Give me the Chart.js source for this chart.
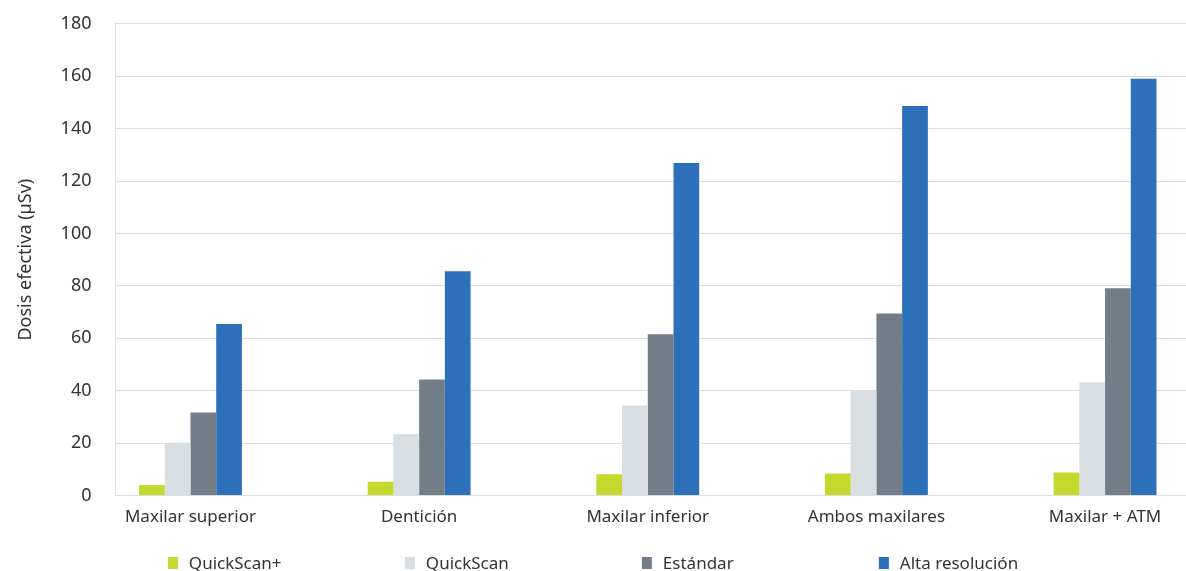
<!DOCTYPE html>
<html>
<head>
<meta charset="utf-8">
<script src="https://cdn.jsdelivr.net/npm/chart.js@4"></script>
<style>
  html, body { margin: 0; padding: 0; background: #fff; overflow: hidden; }
  #wrap { width: 1186px; height: 582px; margin-top: -11px; }
</style>
</head>
<body>
<div id="wrap"><canvas id="myChart"></canvas></div>
<script>
const categories = ['Maxilar superior', 'Dentición', 'Maxilar inferior', 'Ambos maxilares', 'Maxilar + ATM'];
const seriesNames = ['QuickScan+', 'QuickScan', 'Estándar', 'Alta resolución'];
const quickScanPlus = [4, 5.3, 8.1, 8.4, 8.8];
const quickScan = [20.2, 23.4, 34.4, 40.1, 43.2];
const estandar = [31.7, 44.3, 61.6, 69.5, 79.1];
const altaResolucion = [65.5, 85.6, 126.9, 148.6, 159];
const yTicks = [0, 20, 40, 60, 80, 100, 120, 140, 160, 180];
const colors = ['#c5d82e', '#d9dee2', '#737d88', '#2b70b8'];

const allSeries = [quickScanPlus, quickScan, estandar, altaResolucion];

const data = {
    datasets: allSeries.map((vals, s) => ({
        label: seriesNames[s],
        data: vals.map((v, i) => ({ x: i, y: v })),
        backgroundColor: colors[s],
        borderWidth: 0,
        categoryPercentage: 0.45,
        barPercentage: 1
    }))
};

// legend spread out wide at the bottom, like the original
const wideLegend = {
    id: 'wideLegend',
    afterDraw(chart) {
        const ctx = chart.ctx;
        const slot = 237;
        const items = chart.data.datasets;
        ctx.save();
        ctx.font = '17px "Noto Sans"';
        const lastW = 21 + ctx.measureText(items[items.length - 1].label).width;
        const total = slot * (items.length - 1) + lastW;
        let x = chart.width / 2 - total / 2;
        const y = chart.height - 8;
        items.forEach(ds => {
            ctx.fillStyle = ds.backgroundColor;
            ctx.fillRect(x, y - 6, 10, 12);
            ctx.fillStyle = '#333';
            ctx.textBaseline = 'middle';
            ctx.fillText(ds.label, x + 21, y + 1);
            x += slot;
        });
        ctx.restore();
    }
};

const config = {
    type: 'bar',
    data: data,
    plugins: [wideLegend],
    options: {
        responsive: true,
        maintainAspectRatio: false,
        animation: false,
        layout: { padding: { top: 2, right: 0, left: 15, bottom: 41 } },
        plugins: {
            tooltip: { enabled: false },
            legend: { display: false }
        },
        scales: {
            x: {
                type: 'linear',
                offset: false,
                min: -0.328,
                max: 4.354,
                afterBuildTicks: s => { s.ticks = categories.map((c, i) => ({ value: i })); },
                ticks: {
                    autoSkip: false,
                    maxRotation: 0,
                    color: '#333',
                    padding: 3,
                    font: { family: 'Noto Sans', size: 17 },
                    callback: v => categories[v]
                },
                grid: { display: false },
                border: { color: '#dcdfe2' }
            },
            y: {
                min: 0,
                max: 180,
                afterBuildTicks: s => { s.ticks = yTicks.map(v => ({ value: v })); },
                ticks: {
                    color: '#333',
                    padding: 24,
                    font: { family: 'Noto Sans', size: 18 }
                },
                grid: { color: '#dcdfe2', drawTicks: false },
                border: { color: '#dcdfe2', display: true },
                title: {
                    display: true,
                    text: 'Dosis efectiva (µSv)',
                    color: '#333',
                    font: { family: 'Noto Sans', size: 18 },
                    padding: { top: 0, bottom: 0 }
                }
            }
        }
    }
};

const myChart = new Chart(document.getElementById('myChart'), config);
</script>
</body>
</html>
